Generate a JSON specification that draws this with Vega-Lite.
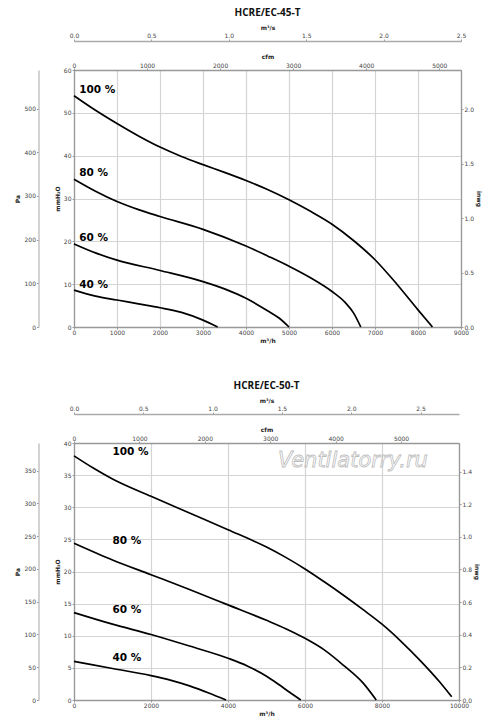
{
  "$schema": "https://vega.github.io/schema/vega-lite/v6.json",
  "background": "white",
  "padding": {"left": 14, "top": 7, "right": 5, "bottom": 5},
  "spacing": 36,
  "datasets": {
    "c45": [
      {"s": "100 %", "q": 0, "mm": 54.0}, {"s": "100 %", "q": 500, "mm": 50.6}, {"s": "100 %", "q": 1000, "mm": 47.5},
      {"s": "100 %", "q": 1500, "mm": 44.6}, {"s": "100 %", "q": 2000, "mm": 42.0}, {"s": "100 %", "q": 2500, "mm": 39.8},
      {"s": "100 %", "q": 3000, "mm": 37.9}, {"s": "100 %", "q": 3500, "mm": 36.1}, {"s": "100 %", "q": 4000, "mm": 34.2},
      {"s": "100 %", "q": 4500, "mm": 32.1}, {"s": "100 %", "q": 5000, "mm": 29.7}, {"s": "100 %", "q": 5500, "mm": 27.0},
      {"s": "100 %", "q": 6000, "mm": 24.0}, {"s": "100 %", "q": 6500, "mm": 20.2}, {"s": "100 %", "q": 7000, "mm": 15.7},
      {"s": "100 %", "q": 7500, "mm": 10.1}, {"s": "100 %", "q": 8000, "mm": 4.0}, {"s": "100 %", "q": 8335, "mm": 0},
      {"s": "80 %", "q": 0, "mm": 34.5}, {"s": "80 %", "q": 500, "mm": 31.7}, {"s": "80 %", "q": 1000, "mm": 29.3},
      {"s": "80 %", "q": 1500, "mm": 27.4}, {"s": "80 %", "q": 2000, "mm": 25.8}, {"s": "80 %", "q": 3000, "mm": 22.8},
      {"s": "80 %", "q": 4000, "mm": 18.9}, {"s": "80 %", "q": 4500, "mm": 16.6}, {"s": "80 %", "q": 5000, "mm": 14.2},
      {"s": "80 %", "q": 5500, "mm": 11.5}, {"s": "80 %", "q": 6000, "mm": 8.3}, {"s": "80 %", "q": 6300, "mm": 5.8},
      {"s": "80 %", "q": 6500, "mm": 3.3}, {"s": "80 %", "q": 6669, "mm": 0},
      {"s": "60 %", "q": 0, "mm": 19.4}, {"s": "60 %", "q": 500, "mm": 17.3}, {"s": "60 %", "q": 1000, "mm": 15.6},
      {"s": "60 %", "q": 2000, "mm": 13.2}, {"s": "60 %", "q": 3000, "mm": 10.6}, {"s": "60 %", "q": 3500, "mm": 8.9},
      {"s": "60 %", "q": 4000, "mm": 6.7}, {"s": "60 %", "q": 4500, "mm": 3.8}, {"s": "60 %", "q": 4768, "mm": 2.1},
      {"s": "60 %", "q": 5000, "mm": 0},
      {"s": "40 %", "q": 0, "mm": 8.6}, {"s": "40 %", "q": 500, "mm": 7.2}, {"s": "40 %", "q": 1000, "mm": 6.3},
      {"s": "40 %", "q": 1500, "mm": 5.4}, {"s": "40 %", "q": 2000, "mm": 4.5}, {"s": "40 %", "q": 2500, "mm": 3.4},
      {"s": "40 %", "q": 3000, "mm": 1.6}, {"s": "40 %", "q": 3340, "mm": 0}
    ],
    "l45": [
      {"t": "100 %", "q": 120, "mm": 55.3},
      {"t": "80 %", "q": 120, "mm": 36.0},
      {"t": "60 %", "q": 120, "mm": 20.8},
      {"t": "40 %", "q": 120, "mm": 9.8}
    ],
    "c50": [
      {"s": "100 %", "q": 0, "mm": 38.0}, {"s": "100 %", "q": 500, "mm": 36.1}, {"s": "100 %", "q": 1000, "mm": 34.4},
      {"s": "100 %", "q": 2000, "mm": 31.7}, {"s": "100 %", "q": 3000, "mm": 29.1}, {"s": "100 %", "q": 4000, "mm": 26.5},
      {"s": "100 %", "q": 5000, "mm": 23.8}, {"s": "100 %", "q": 5500, "mm": 22.2}, {"s": "100 %", "q": 6000, "mm": 20.4},
      {"s": "100 %", "q": 6500, "mm": 18.4}, {"s": "100 %", "q": 7000, "mm": 16.3}, {"s": "100 %", "q": 7500, "mm": 14.1},
      {"s": "100 %", "q": 8000, "mm": 11.8}, {"s": "100 %", "q": 8500, "mm": 9.1}, {"s": "100 %", "q": 9000, "mm": 6.1},
      {"s": "100 %", "q": 9500, "mm": 2.8}, {"s": "100 %", "q": 9810, "mm": 0.5},
      {"s": "80 %", "q": 0, "mm": 24.4}, {"s": "80 %", "q": 1000, "mm": 21.8}, {"s": "80 %", "q": 2000, "mm": 19.5},
      {"s": "80 %", "q": 3000, "mm": 17.2}, {"s": "80 %", "q": 4000, "mm": 14.8}, {"s": "80 %", "q": 5000, "mm": 12.4},
      {"s": "80 %", "q": 5500, "mm": 11.1}, {"s": "80 %", "q": 6000, "mm": 9.6}, {"s": "80 %", "q": 6500, "mm": 7.8},
      {"s": "80 %", "q": 7000, "mm": 5.4}, {"s": "80 %", "q": 7500, "mm": 2.7}, {"s": "80 %", "q": 7850, "mm": 0},
      {"s": "60 %", "q": 0, "mm": 13.6}, {"s": "60 %", "q": 1000, "mm": 11.8}, {"s": "60 %", "q": 2000, "mm": 10.2},
      {"s": "60 %", "q": 3000, "mm": 8.4}, {"s": "60 %", "q": 4000, "mm": 6.5}, {"s": "60 %", "q": 4500, "mm": 5.3},
      {"s": "60 %", "q": 5000, "mm": 3.7}, {"s": "60 %", "q": 5300, "mm": 2.5}, {"s": "60 %", "q": 5600, "mm": 1.2},
      {"s": "60 %", "q": 5890, "mm": 0},
      {"s": "40 %", "q": 0, "mm": 6.0}, {"s": "40 %", "q": 1000, "mm": 4.9}, {"s": "40 %", "q": 2000, "mm": 3.8},
      {"s": "40 %", "q": 2500, "mm": 3.1}, {"s": "40 %", "q": 3000, "mm": 2.2}, {"s": "40 %", "q": 3500, "mm": 1.1},
      {"s": "40 %", "q": 3950, "mm": 0}
    ],
    "l50": [
      {"t": "100 %", "q": 1000, "mm": 38.6},
      {"t": "80 %", "q": 1000, "mm": 24.7},
      {"t": "60 %", "q": 1000, "mm": 14.0},
      {"t": "40 %", "q": 1000, "mm": 6.5}
    ],
    "wm": [
      {"t": "Ventilatorry.ru", "q": 7246, "mm": 37.2}
    ]
  },
  "vconcat": [
    {
      "title": "HCRE/EC-45-T",
      "width": 387,
      "height": 257,
      "resolve": {"axis": {"x": "independent", "y": "independent"}},
      "layer": [
        {
          "data": {"name": "c45"},
          "mark": {"type": "line", "interpolate": "monotone", "color": "#000", "strokeWidth": 1.7},
          "encoding": {
            "x": {"field": "q", "type": "quantitative", "scale": {"domain": [0, 9000], "nice": false},
              "axis": {"orient": "bottom", "title": "m³/h", "grid": true, "format": "d", "values": [0, 1000, 2000, 3000, 4000, 5000, 6000, 7000, 8000, 9000], "titlePadding": 2}},
            "y": {"field": "mm", "type": "quantitative", "scale": {"domain": [0, 60], "nice": false},
              "axis": {"orient": "left", "title": "mmH₂O", "grid": true, "values": [0, 10, 20, 30, 40, 50, 60], "titlePadding": 3, "labelPadding": 1}},
            "detail": {"field": "s", "type": "nominal"}
          }
        },
        {
          "data": {"name": "l45"},
          "mark": {"type": "text", "align": "left", "baseline": "middle", "font": "DejaVu Sans", "fontWeight": "bold", "fontSize": 10.5, "color": "#000"},
          "encoding": {
            "x": {"field": "q", "type": "quantitative", "scale": {"domain": [0, 9000], "nice": false}, "axis": null},
            "y": {"field": "mm", "type": "quantitative", "scale": {"domain": [0, 60], "nice": false}, "axis": null},
            "text": {"field": "t"}
          }
        },
        {
          "data": {"name": "c45"},
          "mark": {"type": "point", "opacity": 0},
          "encoding": {
            "x": {"field": "q", "type": "quantitative", "scale": {"domain": [0, 9000], "nice": false},
              "axis": {"orient": "top", "title": "m³/s", "offset": 29, "grid": false, "values": [0, 1800, 3600, 5400, 7200, 9000], "labelExpr": "format(datum.value / 3600, '.1f')", "titlePadding": 2, "domainColor": "#aaa"}},
            "y": {"field": "mm", "type": "quantitative", "scale": {"domain": [0, 60], "nice": false},
              "axis": {"orient": "left", "title": "Pa", "offset": 35.5, "grid": false, "values": [0, 10.19716, 20.39432, 30.59149, 40.78865, 50.98581], "labelExpr": "format(datum.value * 9.80665, '.0f')", "titlePadding": 4, "labelPadding": 1, "domainColor": "#bbb"}}
          }
        },
        {
          "data": {"name": "c45"},
          "mark": {"type": "point", "opacity": 0},
          "encoding": {
            "x": {"field": "q", "type": "quantitative", "scale": {"domain": [0, 9000], "nice": false},
              "axis": {"orient": "top", "title": "cfm", "grid": false, "values": [0, 1699.011, 3398.022, 5097.033, 6796.044, 8495.055], "labelExpr": "format(datum.value / 1.699011, '.0f')", "titlePadding": 3, "labelPadding": 0}},
            "y": {"field": "mm", "type": "quantitative", "scale": {"domain": [0, 60], "nice": false},
              "axis": {"orient": "right", "title": "inwg", "grid": false, "values": [0, 12.7, 25.4, 38.1, 50.8], "labelExpr": "format(datum.value / 25.4, '.1f')", "titlePadding": 2, "labelPadding": 1}}
          }
        }
      ]
    },
    {
      "title": "HCRE/EC-50-T",
      "width": 385,
      "height": 257,
      "resolve": {"axis": {"x": "independent", "y": "independent"}},
      "layer": [
        {
          "data": {"name": "wm"},
          "mark": {"type": "text", "align": "center", "baseline": "middle", "font": "DejaVu Sans", "fontStyle": "italic", "fontSize": 21, "fillOpacity": 0, "stroke": "#bdbdbd", "strokeWidth": 0.8},
          "encoding": {
            "x": {"field": "q", "type": "quantitative", "scale": {"domain": [0, 10000], "nice": false}, "axis": null},
            "y": {"field": "mm", "type": "quantitative", "scale": {"domain": [0, 40], "nice": false}, "axis": null},
            "text": {"field": "t"}
          }
        },
        {
          "data": {"name": "c50"},
          "mark": {"type": "line", "interpolate": "monotone", "color": "#000", "strokeWidth": 1.7},
          "encoding": {
            "x": {"field": "q", "type": "quantitative", "scale": {"domain": [0, 10000], "nice": false},
              "axis": {"orient": "bottom", "title": "m³/h", "grid": true, "format": "d", "values": [0, 2000, 4000, 6000, 8000, 10000], "titlePadding": 2}},
            "y": {"field": "mm", "type": "quantitative", "scale": {"domain": [0, 40], "nice": false},
              "axis": {"orient": "left", "title": "mmH₂O", "grid": true, "values": [0, 5, 10, 15, 20, 25, 30, 35, 40], "titlePadding": 3, "labelPadding": 1}},
            "detail": {"field": "s", "type": "nominal"}
          }
        },
        {
          "data": {"name": "l50"},
          "mark": {"type": "text", "align": "left", "baseline": "middle", "font": "DejaVu Sans", "fontWeight": "bold", "fontSize": 10.5, "color": "#000"},
          "encoding": {
            "x": {"field": "q", "type": "quantitative", "scale": {"domain": [0, 10000], "nice": false}, "axis": null},
            "y": {"field": "mm", "type": "quantitative", "scale": {"domain": [0, 40], "nice": false}, "axis": null},
            "text": {"field": "t"}
          }
        },
        {
          "data": {"name": "c50"},
          "mark": {"type": "point", "opacity": 0},
          "encoding": {
            "x": {"field": "q", "type": "quantitative", "scale": {"domain": [0, 10000], "nice": false},
              "axis": {"orient": "top", "title": "m³/s", "offset": 29, "grid": false, "values": [0, 1800, 3600, 5400, 7200, 9000], "labelExpr": "format(datum.value / 3600, '.1f')", "titlePadding": 2, "domainColor": "#aaa"}},
            "y": {"field": "mm", "type": "quantitative", "scale": {"domain": [0, 40], "nice": false},
              "axis": {"orient": "left", "title": "Pa", "offset": 35.5, "grid": false, "values": [0, 5.09858, 10.19716, 15.29574, 20.39432, 25.4929, 30.59149, 35.69007], "labelExpr": "format(datum.value * 9.80665, '.0f')", "titlePadding": 4, "labelPadding": 1, "domainColor": "#bbb"}}
          }
        },
        {
          "data": {"name": "c50"},
          "mark": {"type": "point", "opacity": 0},
          "encoding": {
            "x": {"field": "q", "type": "quantitative", "scale": {"domain": [0, 10000], "nice": false},
              "axis": {"orient": "top", "title": "cfm", "grid": false, "values": [0, 1699.011, 3398.022, 5097.033, 6796.044, 8495.055], "labelExpr": "format(datum.value / 1.699011, '.0f')", "titlePadding": 3, "labelPadding": 0}},
            "y": {"field": "mm", "type": "quantitative", "scale": {"domain": [0, 40], "nice": false},
              "axis": {"orient": "right", "title": "inwg", "grid": false, "values": [0, 5.08, 10.16, 15.24, 20.32, 25.4, 30.48, 35.56], "labelExpr": "format(datum.value / 25.4, '.1f')", "titlePadding": 2, "labelPadding": 1}}
          }
        }
      ]
    }
  ],
  "config": {
    "view": {"stroke": null},
    "title": {"font": "Open Sans", "fontSize": 10, "fontWeight": "bold", "color": "#111", "anchor": "middle", "offset": 7},
    "axis": {
      "labelFont": "DejaVu Sans",
      "labelFontSize": 6,
      "labelColor": "#444",
      "labelFlush": false,
      "labelOverlap": false,
      "labelPadding": 0.5,
      "titleFont": "DejaVu Sans",
      "titleFontSize": 6,
      "titleFontWeight": "bold",
      "titleColor": "#222",
      "tickSize": 2,
      "tickColor": "#999",
      "domainColor": "#999",
      "domainWidth": 1.3,
      "gridColor": "#d4d4d4",
      "gridWidth": 1.2
    }
  }
}
